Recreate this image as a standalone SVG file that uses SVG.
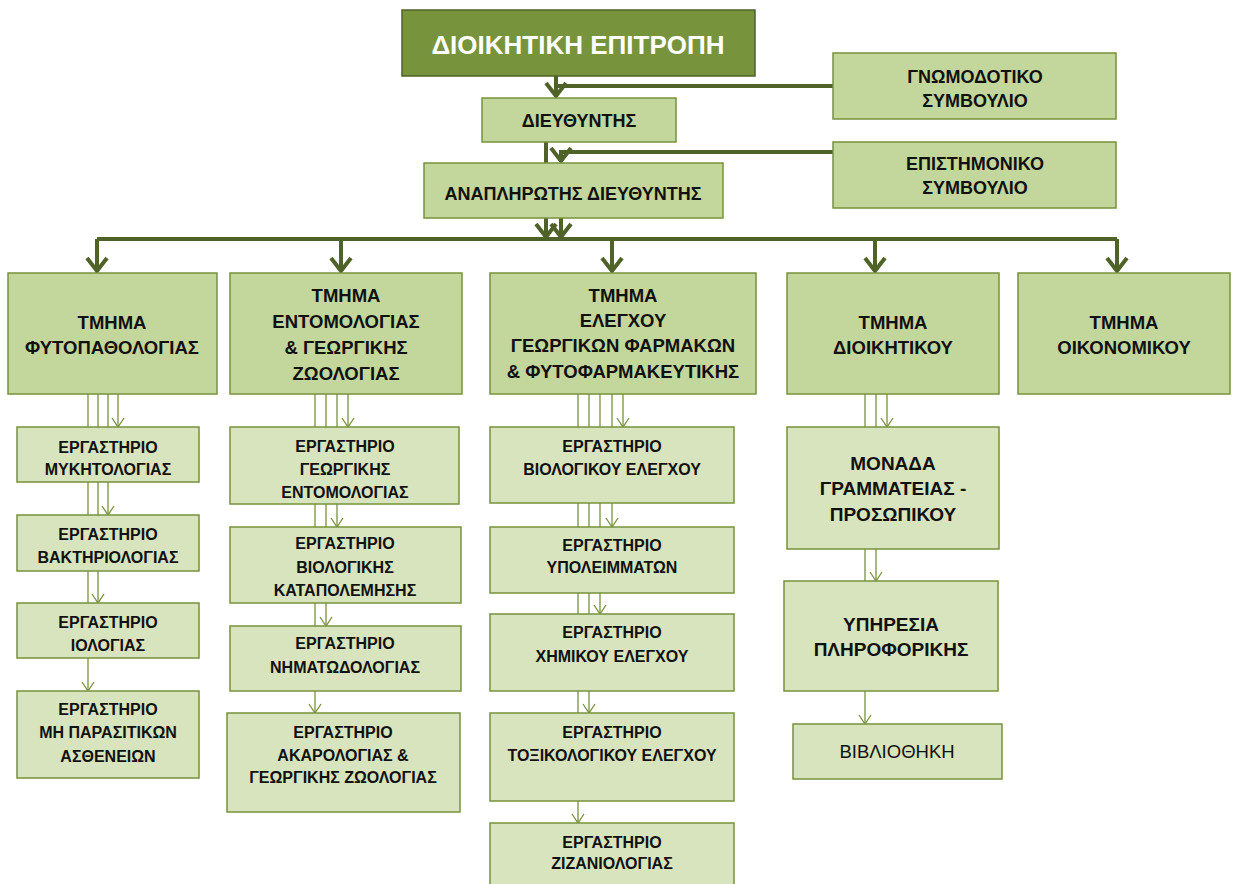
<svg xmlns="http://www.w3.org/2000/svg" width="1234" height="884" viewBox="0 0 1234 884">
<style>
.t{font-family:"Liberation Sans","DejaVu Sans",sans-serif;text-anchor:middle;fill:#111;font-weight:bold}
.top{fill:#77933c;stroke:#4f6228;stroke-width:1.5}
.mid{fill:#c3d69b;stroke:#77933c;stroke-width:1.5}
.lab{fill:#d7e4bd;stroke:#77933c;stroke-width:1.5}
.f26{font-size:26px;fill:#fff}
.f19{font-size:19px}
.f18{font-size:18.5px}
.f18s{font-size:18px}
.f16{font-size:16px}
.reg{font-weight:normal}
.thick{fill:none;stroke:#4f6228;stroke-width:4}
.thin{fill:none;stroke:#77933c;stroke-width:1.3}
</style>
<defs>
<marker id="ah" markerUnits="userSpaceOnUse" viewBox="-20 -14 24 28" markerWidth="24" markerHeight="28" refX="0" refY="0" orient="auto" overflow="visible">
<path d="M-13,-10 L0,0 L-13,10" fill="none" stroke="#4f6228" stroke-width="4"/>
</marker>
<marker id="as" markerUnits="userSpaceOnUse" viewBox="-12 -8 14 16" markerWidth="14" markerHeight="16" refX="0" refY="0" orient="auto" overflow="visible">
<path d="M-9,-6 L0,0 L-9,6" fill="none" stroke="#77933c" stroke-width="1.3"/>
</marker>
</defs>
<rect width="1234" height="884" fill="#fff"/>
<g id="connectors">
<path class="thick" d="M556,76 V96" marker-end="url(#ah)"/>
<path class="thick" d="M833,86 H556"/>
<path class="thick" d="M546,142 V163"/>
<path class="thick" d="M833,152 H561 V161" marker-end="url(#ah)"/>
<path class="thick" d="M546,218 V237" marker-end="url(#ah)"/>
<path class="thick" d="M561,218 V237" marker-end="url(#ah)"/>
<path class="thick" d="M97,239 H1117"/>
<path class="thick" d="M97,239 V271" marker-end="url(#ah)"/>
<path class="thick" d="M341,239 V271" marker-end="url(#ah)"/>
<path class="thick" d="M612,239 V271" marker-end="url(#ah)"/>
<path class="thick" d="M875,239 V271" marker-end="url(#ah)"/>
<path class="thick" d="M1117,239 V271" marker-end="url(#ah)"/>
<path class="thin" d="M118,394 V427" marker-end="url(#as)"/>
<path class="thin" d="M108,394 V515" marker-end="url(#as)"/>
<path class="thin" d="M98,394 V603" marker-end="url(#as)"/>
<path class="thin" d="M88,394 V691" marker-end="url(#as)"/>
<path class="thin" d="M348,394 V427" marker-end="url(#as)"/>
<path class="thin" d="M337,394 V527" marker-end="url(#as)"/>
<path class="thin" d="M326,394 V626" marker-end="url(#as)"/>
<path class="thin" d="M315,394 V713" marker-end="url(#as)"/>
<path class="thin" d="M623,394 V427" marker-end="url(#as)"/>
<path class="thin" d="M612,394 V527" marker-end="url(#as)"/>
<path class="thin" d="M600,394 V614" marker-end="url(#as)"/>
<path class="thin" d="M589,394 V713" marker-end="url(#as)"/>
<path class="thin" d="M578,394 V823" marker-end="url(#as)"/>
<path class="thin" d="M887,394 V427" marker-end="url(#as)"/>
<path class="thin" d="M876,394 V581" marker-end="url(#as)"/>
<path class="thin" d="M865,394 V724" marker-end="url(#as)"/>
</g>
<g id="n-board"><rect class="top" x="402" y="10" width="353" height="66"/><text class="t f26" x="578" y="54">ΔΙΟΙΚΗΤΙΚΗ ΕΠΙΤΡΟΠΗ</text></g>
<g id="n-director"><rect class="mid" x="482" y="98" width="194" height="44"/><text class="t f18s" x="579" y="126.5">ΔΙΕΥΘΥΝΤΗΣ</text></g>
<g id="n-advisory"><rect class="mid" x="833" y="53" width="283" height="66"/><text class="t f18s" x="975" y="83">ΓΝΩΜΟΔΟΤΙΚΟ</text><text class="t f18s" x="975" y="107">ΣΥΜΒΟΥΛΙΟ</text></g>
<g id="n-scientific"><rect class="mid" x="833" y="142" width="283" height="66"/><text class="t f18s" x="975" y="170">ΕΠΙΣΤΗΜΟΝΙΚΟ</text><text class="t f18s" x="975" y="194">ΣΥΜΒΟΥΛΙΟ</text></g>
<g id="n-deputy"><rect class="mid" x="424" y="163" width="299" height="55"/><text class="t f18s" x="573" y="199.5">ΑΝΑΠΛΗΡΩΤΗΣ ΔΙΕΥΘΥΝΤΗΣ</text></g>
<g id="d-phyto"><rect class="mid" x="8" y="273" width="209" height="121"/><text class="t f18" x="112" y="329">ΤΜΗΜΑ</text><text class="t f18" x="112" y="354">ΦΥΤΟΠΑΘΟΛΟΓΙΑΣ</text></g>
<g id="d-ento"><rect class="mid" x="230" y="273" width="232" height="121"/><text class="t f18" x="346" y="302">ΤΜΗΜΑ</text><text class="t f18" x="346" y="328">ΕΝΤΟΜΟΛΟΓΙΑΣ</text><text class="t f18" x="346" y="354">&amp; ΓΕΩΡΓΙΚΗΣ</text><text class="t f18" x="346" y="380">ΖΩΟΛΟΓΙΑΣ</text></g>
<g id="d-control"><rect class="mid" x="490" y="273" width="266" height="121"/><text class="t f18" x="623" y="302">ΤΜΗΜΑ</text><text class="t f18" x="623" y="327">ΕΛΕΓΧΟΥ</text><text class="t f18" x="623" y="352">ΓΕΩΡΓΙΚΩΝ ΦΑΡΜΑΚΩΝ</text><text class="t f18" x="623" y="378">&amp; ΦΥΤΟΦΑΡΜΑΚΕΥΤΙΚΗΣ</text></g>
<g id="d-admin"><rect class="mid" x="787" y="273" width="212" height="121"/><text class="t f18" x="893" y="329">ΤΜΗΜΑ</text><text class="t f18" x="893" y="354">ΔΙΟΙΚΗΤΙΚΟΥ</text></g>
<g id="d-econ"><rect class="mid" x="1018" y="273" width="212" height="121"/><text class="t f18" x="1124" y="329">ΤΜΗΜΑ</text><text class="t f18" x="1124" y="354">ΟΙΚΟΝΟΜΙΚΟΥ</text></g>
<g id="l-myk"><rect class="lab" x="17" y="427" width="182" height="55"/><text class="t f16" x="108" y="453">ΕΡΓΑΣΤΗΡΙΟ</text><text class="t f16" x="108" y="475">ΜΥΚΗΤΟΛΟΓΙΑΣ</text></g>
<g id="l-bakt"><rect class="lab" x="17" y="515" width="182" height="56"/><text class="t f16" x="108" y="540">ΕΡΓΑΣΤΗΡΙΟ</text><text class="t f16" x="108" y="563">ΒΑΚΤΗΡΙΟΛΟΓΙΑΣ</text></g>
<g id="l-io"><rect class="lab" x="17" y="603" width="182" height="55"/><text class="t f16" x="108" y="628">ΕΡΓΑΣΤΗΡΙΟ</text><text class="t f16" x="108" y="651">ΙΟΛΟΓΙΑΣ</text></g>
<g id="l-mh"><rect class="lab" x="17" y="691" width="182" height="87"/><text class="t f16" x="108" y="715">ΕΡΓΑΣΤΗΡΙΟ</text><text class="t f16" x="108" y="738">ΜΗ ΠΑΡΑΣΙΤΙΚΩΝ</text><text class="t f16" x="108" y="762">ΑΣΘΕΝΕΙΩΝ</text></g>
<g id="l-geo"><rect class="lab" x="230" y="427" width="229" height="77"/><text class="t f16" x="345" y="452">ΕΡΓΑΣΤΗΡΙΟ</text><text class="t f16" x="345" y="475">ΓΕΩΡΓΙΚΗΣ</text><text class="t f16" x="345" y="498">ΕΝΤΟΜΟΛΟΓΙΑΣ</text></g>
<g id="l-bio"><rect class="lab" x="230" y="527" width="231" height="76"/><text class="t f16" x="345" y="549">ΕΡΓΑΣΤΗΡΙΟ</text><text class="t f16" x="345" y="573">ΒΙΟΛΟΓΙΚΗΣ</text><text class="t f16" x="345" y="596">ΚΑΤΑΠΟΛΕΜΗΣΗΣ</text></g>
<g id="l-nim"><rect class="lab" x="230" y="626" width="231" height="65"/><text class="t f16" x="345" y="649">ΕΡΓΑΣΤΗΡΙΟ</text><text class="t f16" x="345" y="673">ΝΗΜΑΤΩΔΟΛΟΓΙΑΣ</text></g>
<g id="l-akar"><rect class="lab" x="227" y="713" width="233" height="99"/><text class="t f16" x="343" y="738">ΕΡΓΑΣΤΗΡΙΟ</text><text class="t f16" x="343" y="761">ΑΚΑΡΟΛΟΓΙΑΣ &amp;</text><text class="t f16" x="343" y="783">ΓΕΩΡΓΙΚΗΣ ΖΩΟΛΟΓΙΑΣ</text></g>
<g id="l-biol"><rect class="lab" x="490" y="427" width="244" height="76"/><text class="t f16" x="612" y="452">ΕΡΓΑΣΤΗΡΙΟ</text><text class="t f16" x="612" y="475">ΒΙΟΛΟΓΙΚΟΥ ΕΛΕΓΧΟΥ</text></g>
<g id="l-ypol"><rect class="lab" x="490" y="527" width="244" height="66"/><text class="t f16" x="612" y="551">ΕΡΓΑΣΤΗΡΙΟ</text><text class="t f16" x="612" y="573">ΥΠΟΛΕΙΜΜΑΤΩΝ</text></g>
<g id="l-xhm"><rect class="lab" x="490" y="614" width="244" height="77"/><text class="t f16" x="612" y="638">ΕΡΓΑΣΤΗΡΙΟ</text><text class="t f16" x="612" y="662">ΧΗΜΙΚΟΥ ΕΛΕΓΧΟΥ</text></g>
<g id="l-tox"><rect class="lab" x="490" y="713" width="244" height="88"/><text class="t f16" x="612" y="738">ΕΡΓΑΣΤΗΡΙΟ</text><text class="t f16" x="612" y="761">ΤΟΞΙΚΟΛΟΓΙΚΟΥ ΕΛΕΓΧΟΥ</text></g>
<g id="l-ziz"><rect class="lab" x="490" y="823" width="244" height="70"/><text class="t f16" x="612" y="848">ΕΡΓΑΣΤΗΡΙΟ</text><text class="t f16" x="612" y="869">ΖΙΖΑΝΙΟΛΟΓΙΑΣ</text></g>
<g id="u-gram"><rect class="lab" x="787" y="427" width="212" height="122"/><text class="t f19" x="893" y="470">ΜΟΝΑΔΑ</text><text class="t f19" x="893" y="495">ΓΡΑΜΜΑΤΕΙΑΣ -</text><text class="t f19" x="893" y="521">ΠΡΟΣΩΠΙΚΟΥ</text></g>
<g id="u-it"><rect class="lab" x="784" y="581" width="214" height="110"/><text class="t f19" x="891" y="631">ΥΠΗΡΕΣΙΑ</text><text class="t f19" x="891" y="656">ΠΛΗΡΟΦΟΡΙΚΗΣ</text></g>
<g id="u-lib"><rect class="lab" x="793" y="724" width="209" height="55"/><text class="t f18 reg" x="897" y="758">ΒΙΒΛΙΟΘΗΚΗ</text></g>
</svg>
